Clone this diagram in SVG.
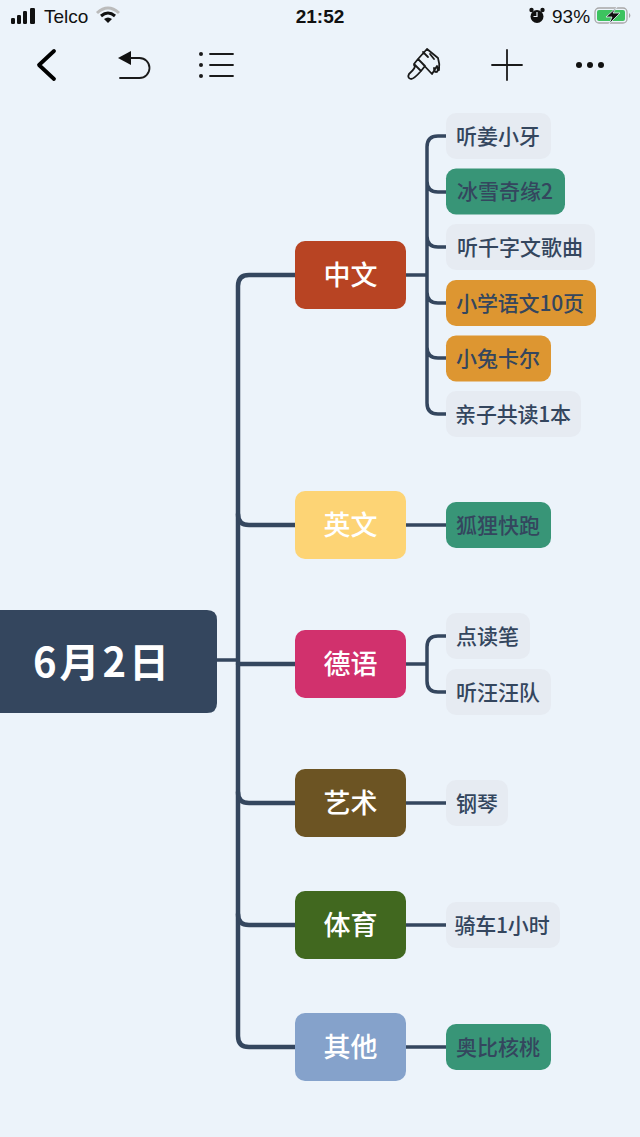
<svg xmlns="http://www.w3.org/2000/svg" width="640" height="1137" viewBox="0 0 640 1137">
<style>
text{font-family:"Noto Sans CJK SC","Noto Sans",sans-serif;text-anchor:middle}
.st{font-family:"Liberation Sans",Arial,sans-serif;font-size:19px;fill:#111;text-anchor:start}
.m{font-size:27px;font-weight:500;fill:#fff}
.s{font-size:21px;font-weight:500;fill:#34465e}
.l{fill:none;stroke:#34465e;stroke-linecap:round}
.b1{stroke-width:4.5}.b2{stroke-width:3.500}
.ic{fill:none;stroke:#1a1a1a;stroke-width:1.800;stroke-linecap:round;stroke-linejoin:round}
</style>
<rect width="640" height="1137" fill="#ecf3fa"/>
<g id="statusbar">
<rect x="11" y="18" width="4" height="6" rx="1.200" fill="#111"/><rect x="17" y="15" width="4" height="9" rx="1.200" fill="#111"/><rect x="23" y="11" width="4" height="13" rx="1.200" fill="#111"/><rect x="30" y="8" width="5" height="16" rx="1.200" fill="#111"/>
<text class="st" x="44" y="23">Telco</text>
<path d="M97 13Q108 3 119 13" fill="none" stroke="#bbb" stroke-width="3"/>
<path d="M101 16Q108 10 115 16" fill="none" stroke="#111" stroke-width="3"/>
<path d="M104 19Q108 16 112 19L108 23Z" fill="#111"/>
<text class="st" x="320" y="23" style="text-anchor:middle;font-weight:700">21:52</text>
<circle cx="537" cy="16.500" r="6.500" fill="#111"/><circle cx="531.500" cy="10" r="2.200" fill="#111"/><circle cx="542.500" cy="10" r="2.200" fill="#111"/>
<path d="M537 12V16.500H533.500" fill="none" stroke="#ecf3fa" stroke-width="1.200"/>
<text class="st" x="552" y="23">93%</text>
<rect x="595" y="8" width="32" height="15" rx="4" fill="none" stroke="#a8a8a8" stroke-width="1.300"/>
<rect x="597" y="10" width="28" height="11" rx="2" fill="#3dc35f"/>
<path d="M629 13a3 3 0 0 1 0 5z" fill="#a8a8a8"/>
<path d="M617 7L606 17H612L609 24L620 13H613Z" fill="#111" stroke="#ecf3fa" stroke-width="0.800"/>
</g>
<g id="toolbar">
<path d="M54 51L39 65L54 79" fill="none" stroke="#000" stroke-width="3.800" stroke-linecap="round" stroke-linejoin="round"/>
<path d="M118 58L131 51V65Z" fill="#111"/>
<path d="M130 58H139.500A10 10 0 0 1 139.500 78H120" class="ic"/>
<circle cx="201" cy="54" r="2" fill="#1a1a1a"/><circle cx="201" cy="65" r="2" fill="#1a1a1a"/><circle cx="201" cy="76" r="2" fill="#1a1a1a"/>
<path d="M210 54H233M210 65H233M210 76H233" class="ic"/>
<path d="M427 49L418 59L432 74L437 66Q439 72 436 72Q434 72 434 68M427 49L438 58Q440 64 439 70M418 59L414 64L421 71L425 66L418 59M414 65Q417 67 409 74Q407 78 411 79Q414 79 421 71M423 52L428 57M430 54L434 59" class="ic"/>
<path d="M507 50V80M492 65H522" class="ic"/>
<circle cx="579" cy="65" r="3" fill="#111"/><circle cx="590" cy="65" r="3" fill="#111"/><circle cx="601" cy="65" r="3" fill="#111"/>
</g>
<g id="connectors">
<path class="l b2" d="M217 660H238"/>
<path class="l b1" d="M295 275H249Q238 275 238 286V1036Q238 1047 249 1047H295"/>
<path class="l b1" d="M238 514Q238 525 249 525H295M238 664H295M238 792Q238 803 249 803H295M238 914Q238 925 249 925H295"/>
<path class="l b2" d="M406 275H427M447 136H438Q427 136 427 147V403Q427 414 438 414H447M427 181Q427 192 438 192H447M427 236Q427 247 438 247H447M427 292Q427 303 438 303H447M427 347Q427 358 438 358H447"/>
<path class="l b2" d="M406 525H447"/>
<path class="l b2" d="M406 664H427M447 636H438Q427 636 427 647V681Q427 692 438 692H447"/>
<path class="l b2" d="M406 803H447M406 925H447M406 1047H447"/>
</g>
<g id="root"><path d="M0 610H207Q217 610 217 620V703Q217 713 207 713H0Z" fill="#34465e"/><text x="102.500" y="677" style="font-size:40px;font-weight:700;letter-spacing:3px" fill="#fff">6月2日</text></g>
<g id="n-zhongwen"><rect x="295" y="241" width="111" height="68" rx="10" fill="#b84423"/><text class="m" x="350.500" y="285">中文</text></g>
<g id="n-yingwen"><rect x="295" y="491" width="111" height="68" rx="10" fill="#fdd475"/><text class="m" x="350.500" y="535">英文</text></g>
<g id="n-deyu"><rect x="295" y="630" width="111" height="68" rx="10" fill="#d1316d"/><text class="m" x="350.500" y="674">德语</text></g>
<g id="n-yishu"><rect x="295" y="769" width="111" height="68" rx="10" fill="#6c5423"/><text class="m" x="350.500" y="813">艺术</text></g>
<g id="n-tiyu"><rect x="295" y="891" width="111" height="68" rx="10" fill="#41681f"/><text class="m" x="350.500" y="935">体育</text></g>
<g id="n-qita"><rect x="295" y="1013" width="111" height="68" rx="10" fill="#85a2cb"/><text class="m" x="350.500" y="1057">其他</text></g>
<g id="c1"><rect x="446" y="113" width="105" height="46" rx="10" fill="#e6ebf2"/><text class="s" x="498" y="143.500">听姜小牙</text></g>
<g id="c2"><rect x="446" y="168.500" width="119" height="46" rx="10" fill="#389577"/><text class="s" x="505" y="199">冰雪奇缘2</text></g>
<g id="c3"><rect x="446" y="224" width="149" height="46" rx="10" fill="#e6ebf2"/><text class="s" x="520" y="254.500">听千字文歌曲</text></g>
<g id="c4"><rect x="446" y="280" width="150" height="46" rx="10" fill="#dd9631"/><text class="s" x="520" y="310.500" style="letter-spacing:-.2px">小学语文10页</text></g>
<g id="c5"><rect x="446" y="335.500" width="105" height="46" rx="10" fill="#dd9631"/><text class="s" x="498" y="366">小兔卡尔</text></g>
<g id="c6"><rect x="446" y="391" width="135" height="46" rx="10" fill="#e6ebf2"/><text class="s" x="513" y="421.500" style="letter-spacing:-.2px">亲子共读1本</text></g>
<g id="e1"><rect x="446" y="502" width="105" height="46" rx="10" fill="#389577"/><text class="s" x="498" y="532.500">狐狸快跑</text></g>
<g id="d1"><rect x="446" y="613" width="84" height="46" rx="10" fill="#e6ebf2"/><text class="s" x="487.500" y="643.500">点读笔</text></g>
<g id="d2"><rect x="446" y="669" width="105" height="46" rx="10" fill="#e6ebf2"/><text class="s" x="498" y="699.500">听汪汪队</text></g>
<g id="a1"><rect x="446" y="780" width="62" height="46" rx="10" fill="#e6ebf2"/><text class="s" x="477" y="810.500">钢琴</text></g>
<g id="t1"><rect x="446" y="902" width="114" height="46" rx="10" fill="#e6ebf2"/><text class="s" x="502" y="932.500" style="letter-spacing:-.2px">骑车1小时</text></g>
<g id="o1"><rect x="446" y="1024" width="105" height="46" rx="10" fill="#389577"/><text class="s" x="498" y="1054.500">奥比核桃</text></g>
</svg>
